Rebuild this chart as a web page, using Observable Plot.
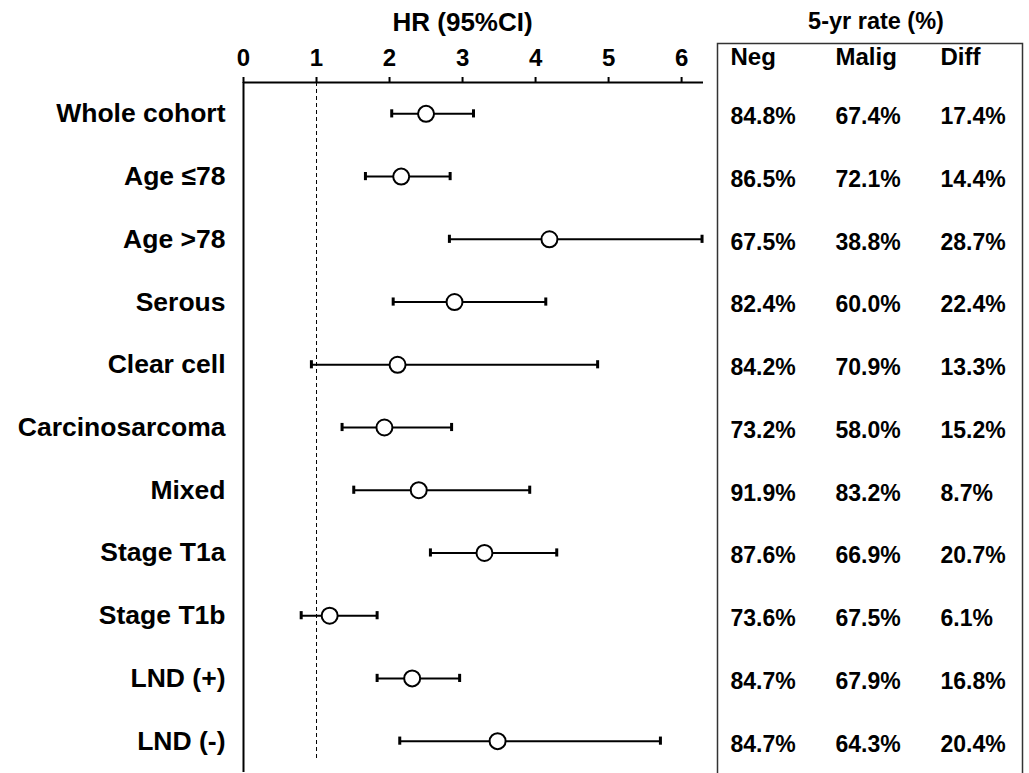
<!DOCTYPE html>
<html>
<head>
<meta charset="utf-8">
<script src="https://cdn.jsdelivr.net/npm/d3@7"></script>
<script src="https://cdn.jsdelivr.net/npm/@observablehq/plot@0.6"></script>
<style>
  html, body { margin: 0; padding: 0; background: white; }
  #wrap { position: relative; width: 1029px; height: 773px; overflow: hidden; }
  #wrap svg { position: absolute; left: 0; top: 0; }
  .forest [aria-label^="x-axis"] line, .forest [aria-label^="x-axis"] path { stroke-width: 2px; stroke: black; }
</style>
</head>
<body>
<div id="wrap"></div>
<script>
// ---- data ----
const categories = ["Whole cohort", "Age \u226478", "Age >78", "Serous", "Clear cell", "Carcinosarcoma", "Mixed", "Stage T1a", "Stage T1b", "LND (+)", "LND (-)"];
const hr    = [2.50, 2.16, 4.19, 2.89, 2.11, 1.93, 2.40, 3.30, 1.18, 2.31, 3.48];
const lower = [2.03, 1.67, 2.82, 2.05, 0.93, 1.35, 1.51, 2.56, 0.79, 1.83, 2.14];
const upper = [3.15, 2.83, 6.28, 4.14, 4.85, 2.85, 3.92, 4.29, 1.83, 2.96, 5.71];
const neg   = [84.8, 86.5, 67.5, 82.4, 84.2, 73.2, 91.9, 87.6, 73.6, 84.7, 84.7];
const malig = [67.4, 72.1, 38.8, 60.0, 70.9, 58.0, 83.2, 66.9, 67.5, 67.9, 64.3];
const diff  = [17.4, 14.4, 28.7, 22.4, 13.3, 15.2, 8.7, 20.7, 6.1, 16.8, 20.4];
const xTicks = [0, 1, 2, 3, 4, 5, 6];
const columns = ["Neg", "Malig", "Diff"];
const hrTitle = "HR (95%CI)";
const tableTitle = "5-yr rate (%)";

// ---- derived tables ----
const rows = categories.map((c, i) => ({label: c, i, hr: hr[i], lo: lower[i], hi: upper[i]}));
const cells = [];
categories.forEach((c, i) => {
  [neg, malig, diff].forEach((arr, j) => cells.push({i, col: columns[j], value: arr[i]}));
});

const W = 1029, H = 773;
const font = "'Liberation Sans', Arial, sans-serif";
const yScale = {domain: [-0.5, 10.5], range: [82, 772], axis: null};
const cap = 0.065;

const forest = Plot.plot({
  width: W, height: H,
  marginLeft: 243, marginRight: 326, marginTop: 82, marginBottom: 1,
  className: "forest",
  style: {fontFamily: font, fontSize: "24px", fontWeight: "bold", color: "black", background: "white", overflow: "visible"},
  x: {domain: [0, 6.3], axis: "top", ticks: xTicks, tickSize: 6, tickPadding: 11, label: null, tickFormat: d3.format("d")},
  y: yScale,
  marks: [
    Plot.ruleY([-0.5], {stroke: "black", strokeWidth: 2}),
    Plot.ruleX([0], {y1: -0.5, y2: 10.5, stroke: "black", strokeWidth: 2}),
    Plot.ruleX([1], {y1: -0.5, y2: 10.3, stroke: "black", strokeWidth: 1, strokeDasharray: "4,3"}),
    Plot.ruleY(rows, {x1: "lo", x2: "hi", y: "i", stroke: "black", strokeWidth: 2}),
    Plot.ruleX(rows, {x: "lo", y1: d => d.i - cap, y2: d => d.i + cap, stroke: "black", strokeWidth: 3}),
    Plot.ruleX(rows, {x: "hi", y1: d => d.i - cap, y2: d => d.i + cap, stroke: "black", strokeWidth: 3}),
    Plot.dot(rows, {x: "hr", y: "i", r: 8, fill: "white", stroke: "black", strokeWidth: 2}),
    Plot.text(rows, {y: "i", text: "label", frameAnchor: "left", textAnchor: "end", dx: -18, fontSize: 26.5, fill: "black"}),
    Plot.text([hrTitle], {x: 3, frameAnchor: "top", lineAnchor: "middle", dy: -60, fontSize: 26, fill: "black"})
  ]
});

const table = Plot.plot({
  width: W, height: H,
  marginLeft: 717, marginRight: 7, marginTop: 43, marginBottom: -20,
  style: {fontFamily: font, fontSize: "23px", fontWeight: "bold", color: "black", background: "transparent"},
  x: {type: "point", domain: columns, range: [729, 940], padding: 0, axis: null},
  y: yScale,
  marks: [
    Plot.frame({stroke: "#333", strokeWidth: 1.5}),
    Plot.text([tableTitle], {frameAnchor: "top", lineAnchor: "middle", dy: -22, dx: 6, fontSize: 23.5, fill: "black"}),
    Plot.text(columns, {x: d => d, frameAnchor: "top", lineAnchor: "middle", dy: 14, textAnchor: "start", fontSize: 24, fill: "black"}),
    Plot.text(cells, {x: "col", y: "i", text: d => d.value.toFixed(1) + "%", textAnchor: "start", dy: 3, fill: "black"})
  ]
});

const wrap = document.getElementById("wrap");
wrap.appendChild(forest);
wrap.appendChild(table);
</script>
</body>
</html>
